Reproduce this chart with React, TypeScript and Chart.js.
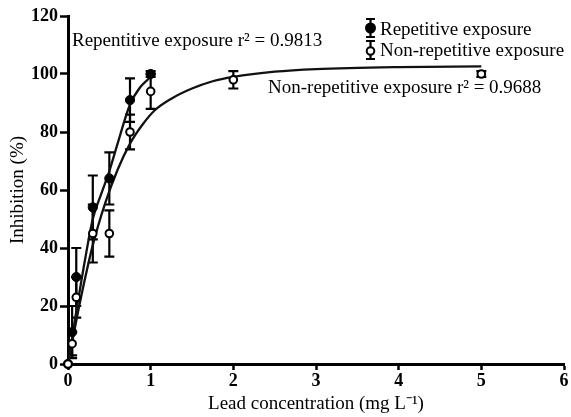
import React, { useEffect, useRef } from 'react';
import { Chart, registerables } from 'chart.js';

Chart.register(...registerables);

const concRep = [0, 0.05, 0.1, 0.3, 0.5, 0.75, 1];
const meanRep = [0, 11, 30, 54, 64, 91, 100];
const errRep = [0, 9, 10, 11, 9, 7.5, 1];

const concNon = [0, 0.05, 0.1, 0.3, 0.5, 0.75, 1, 2, 5];
const meanNon = [0, 7, 23, 45, 45, 80, 94, 98, 100];
const errNon = [0, 4, 7, 10, 8, 6, 6, 3, 1];

// Fitted curves
const repCurveX = [0, 0.1, 0.2, 0.3, 0.4, 0.5, 0.6, 0.75, 0.875, 1];
const repCurveY = [0, 18, 35, 50, 58.5, 66.5, 76, 89.5, 95.5, 99];
const nonCurveX = [0, 0.15, 0.3, 0.45, 0.6, 0.75, 0.9, 1.05, 1.25, 1.5, 1.75, 2, 2.5, 3, 4, 5];
const nonCurveY = [0, 22, 41, 55.5, 67, 76, 82.5, 87.5, 91.5, 95, 97.5, 99, 100.8, 101.7, 102.4, 102.6];

const xTicks = [0, 1, 2, 3, 4, 5, 6];
const yTicks = [0, 20, 40, 60, 80, 100, 120];

const labelRep = 'Repetitive exposure';
const labelNon = 'Non-repetitive exposure';
const noteRep = 'Repentitive exposure r² = 0.9813';
const noteNon = 'Non-repetitive exposure r² = 0.9688';
const xTitle = 'Lead concentration (mg L⁻¹)';
const yTitle = 'Inhibition (%)';

const FAMILY = "'Liberation Serif', 'Times New Roman', serif";

const zip = (xs: number[], ys: number[]) => xs.map((x, i) => ({ x, y: ys[i] }));

export default function App() {
  const ref = useRef<HTMLCanvasElement | null>(null);

  useEffect(() => {
    if (!ref.current) return;

    const errorBars = {
      id: 'errorBars',
      beforeDatasetsDraw(chart: any) {
        const { ctx } = chart;
        const xs = chart.scales.x;
        const ys = chart.scales.y;
        const sets = [
          { c: concRep, m: meanRep, e: errRep },
          { c: concNon, m: meanNon, e: errNon },
        ];
        ctx.save();
        ctx.strokeStyle = '#000';
        ctx.lineWidth = 2.2;
        const hw = 5;
        sets.forEach(({ c, m, e }) => {
          c.forEach((cx, i) => {
            if (!e[i]) return;
            const px = xs.getPixelForValue(cx);
            const top = ys.getPixelForValue(m[i] + e[i]);
            const bot = ys.getPixelForValue(m[i] - e[i]);
            ctx.beginPath();
            ctx.moveTo(px, top);
            ctx.lineTo(px, bot);
            ctx.moveTo(px - hw, top);
            ctx.lineTo(px + hw, top);
            ctx.moveTo(px - hw, bot);
            ctx.lineTo(px + hw, bot);
            ctx.stroke();
          });
        });
        ctx.restore();
      },
    };

    const notes = {
      id: 'notes',
      afterDraw(chart: any) {
        const { ctx } = chart;
        ctx.save();
        ctx.fillStyle = '#000';
        ctx.strokeStyle = '#000';
        ctx.font = `19px ${FAMILY}`;
        ctx.textBaseline = 'alphabetic';
        ctx.textAlign = 'left';
        ctx.fillText(noteRep, 72, 46);
        ctx.fillText(noteNon, 268, 93);

        // legend
        const ix = 370.5;
        const hw = 4.5;
        const drawIcon = (cy: number, top: number, bot: number, filled: boolean) => {
          ctx.lineWidth = 2.2;
          ctx.beginPath();
          ctx.moveTo(ix, top);
          ctx.lineTo(ix, bot);
          ctx.moveTo(ix - hw, top);
          ctx.lineTo(ix + hw, top);
          ctx.moveTo(ix - hw, bot);
          ctx.lineTo(ix + hw, bot);
          ctx.stroke();
          ctx.beginPath();
          ctx.arc(ix, cy, filled ? 4.5 : 3.8, 0, Math.PI * 2);
          ctx.fillStyle = filled ? '#000' : '#fff';
          ctx.fill();
          ctx.lineWidth = 2;
          ctx.stroke();
          ctx.fillStyle = '#000';
        };
        drawIcon(28, 19, 37, true);
        drawIcon(51, 41, 59, false);
        ctx.fillText(labelRep, 380, 35);
        ctx.fillText(labelNon, 380, 56);
        ctx.restore();
      },
    };

    const chart = new Chart(ref.current, {
      type: 'scatter',
      data: {
        datasets: [
          {
            label: labelNon,
            data: zip(concNon, meanNon),
            showLine: false,
            pointRadius: 3.8,
            pointBackgroundColor: '#fff',
            pointBorderColor: '#000',
            pointBorderWidth: 2,
            order: 0,
            clip: false,
          } as any,
          {
            label: labelRep,
            data: zip(concRep, meanRep),
            showLine: false,
            pointRadius: 4.6,
            pointBackgroundColor: '#000',
            pointBorderColor: '#000',
            pointBorderWidth: 1,
            order: 1,
            clip: false,
          },
          {
            label: 'rep fit',
            data: zip(repCurveX, repCurveY),
            showLine: true,
            pointRadius: 0,
            borderColor: '#111',
            borderWidth: 2.3,
            cubicInterpolationMode: 'monotone',
            order: 2,
            clip: false,
          },
          {
            label: 'non fit',
            data: zip(nonCurveX, nonCurveY),
            showLine: true,
            pointRadius: 0,
            borderColor: '#111',
            borderWidth: 2.3,
            cubicInterpolationMode: 'monotone',
            order: 3,
            clip: false,
          },
        ],
      },
      options: {
        animation: false,
        responsive: false,
        devicePixelRatio: 1,
        layout: { padding: { left: 0, right: 7, top: 16, bottom: 0 } },
        plugins: {
          legend: { display: false },
          tooltip: { enabled: false },
        },
        scales: {
          x: {
            type: 'linear',
            min: 0,
            max: 6,
            afterBuildTicks: (s: any) => {
              s.ticks = xTicks.map((v) => ({ value: v }));
            },
            ticks: {
              color: '#000',
              font: { family: FAMILY, size: 18, weight: 'bold' },
              padding: 1,
            },
            grid: {
              display: true,
              drawOnChartArea: false,
              drawTicks: true,
              tickLength: 6,
              tickWidth: 2.5,
              tickColor: '#000',
              color: '#000',
            },
            border: { display: true, color: '#000', width: 3 },
            title: {
              display: true,
              text: xTitle,
              color: '#000',
              font: { family: FAMILY, size: 19 },
              padding: { top: 0, bottom: 2 },
            },
            afterFit: (s: any) => {
              s.height = 53;
            },
          },
          y: {
            type: 'linear',
            min: 0,
            max: 120,
            afterBuildTicks: (s: any) => {
              s.ticks = yTicks.map((v) => ({ value: v }));
            },
            ticks: {
              color: '#000',
              font: { family: FAMILY, size: 18, weight: 'bold' },
              padding: 2,
            },
            grid: {
              display: true,
              drawOnChartArea: false,
              drawTicks: true,
              tickLength: 8,
              tickWidth: 2.5,
              tickColor: '#000',
              color: '#000',
            },
            border: { display: true, color: '#000', width: 3 },
            title: {
              display: true,
              text: yTitle,
              color: '#000',
              font: { family: FAMILY, size: 19 },
              padding: { top: 7, bottom: 0 },
            },
            afterFit: (s: any) => {
              s.width = 68;
            },
          },
        },
      } as any,
      plugins: [errorBars, notes],
    });

    return () => chart.destroy();
  }, []);

  return (
    <div style={{ position: 'fixed', left: 0, top: 0, width: 571, height: 417, background: '#fff' }}>
      <canvas ref={ref} width={571} height={417} style={{ display: 'block' }} />
    </div>
  );
}
